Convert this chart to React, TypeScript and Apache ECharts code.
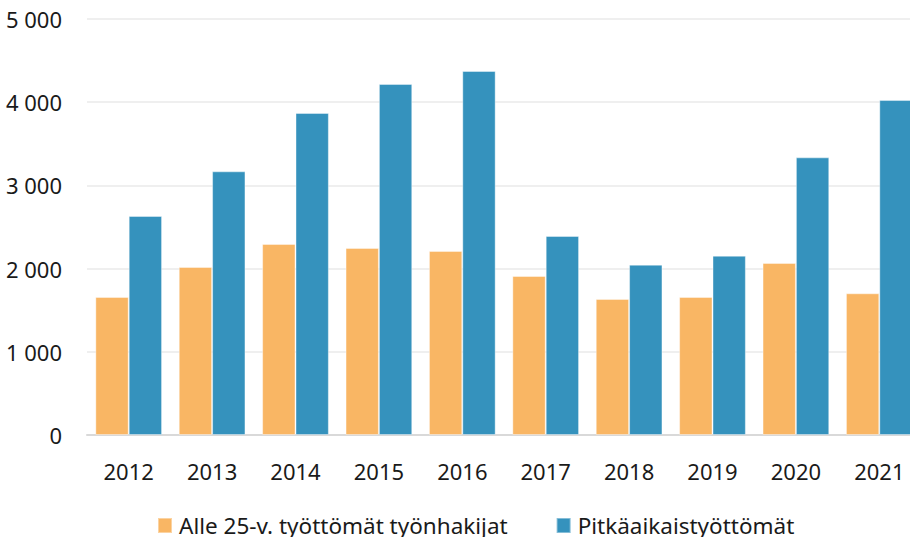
import React, { useEffect, useRef } from "react";
import * as echarts from "echarts";

const years = ["2012", "2013", "2014", "2015", "2016", "2017", "2018", "2019", "2020", "2021"];
const youngUnemployed = [1659, 2019, 2296, 2248, 2212, 1911, 1635, 1659, 2067, 1703];
const longTermUnemployed = [2632, 3169, 3870, 4219, 4375, 2392, 2047, 2155, 3337, 4026];
const seriesNames = ["Alle 25-v. työttömät työnhakijat", "Pitkäaikaistyöttömät"];

const FONT = "'Noto Sans', sans-serif";

function fmt(v: number): string {
  return String(v).replace(/\B(?=(\d{3})+(?!\d))/g, " ");
}

export default function App() {
  const ref = useRef<HTMLDivElement>(null);
  useEffect(() => {
    if (!ref.current) return;
    const chart = echarts.init(ref.current, undefined, { renderer: "svg" });
    chart.setOption({
      animation: false,
      textStyle: { fontFamily: FONT },
      grid: { left: 87, right: 19, top: 19, bottom: 102, containLabel: false },
      legend: {
        left: 157,
        top: 514,
        padding: 0,
        itemWidth: 14,
        itemHeight: 15,
        itemGap: 48,
        icon: "rect",
        textStyle: { fontSize: 22.5, color: "#1a1a1a", fontFamily: FONT, padding: [0, 0, 0, 2] },
        data: seriesNames,
      },
      xAxis: {
        type: "category",
        data: years,
        axisTick: { show: false },
        axisLine: { lineStyle: { color: "#d9d9d9", width: 2 } },
        axisLabel: { fontSize: 22, color: "#1a1a1a", margin: 25, fontFamily: FONT },
      },
      yAxis: {
        type: "value",
        min: 0,
        max: 5000,
        interval: 1000,
        axisLine: { show: false },
        axisTick: { show: false },
        splitLine: { lineStyle: { color: "#efefef", width: 2 } },
        axisLabel: { fontSize: 22, color: "#1a1a1a", margin: 25, fontFamily: FONT, formatter: (v: number) => fmt(v) },
      },
      series: [
        {
          name: seriesNames[0],
          type: "bar",
          data: youngUnemployed,
          barGap: "0%",
          barCategoryGap: "20%",
          itemStyle: { color: "#f9b664", borderColor: "rgba(255,255,255,0.4)", borderWidth: 1 },
        },
        {
          name: seriesNames[1],
          type: "bar",
          data: longTermUnemployed,
          barGap: "0%",
          barCategoryGap: "20%",
          itemStyle: { color: "#3592bd", borderColor: "rgba(255,255,255,0.4)", borderWidth: 1 },
        },
      ],
    });
    return () => chart.dispose();
  }, []);
  return (
    <div style={{ position: "fixed", left: 0, top: 0, width: 910, height: 537, overflow: "hidden", background: "#fff" }}>
      <div ref={ref} style={{ width: 940, height: 537 }} />
    </div>
  );
}
